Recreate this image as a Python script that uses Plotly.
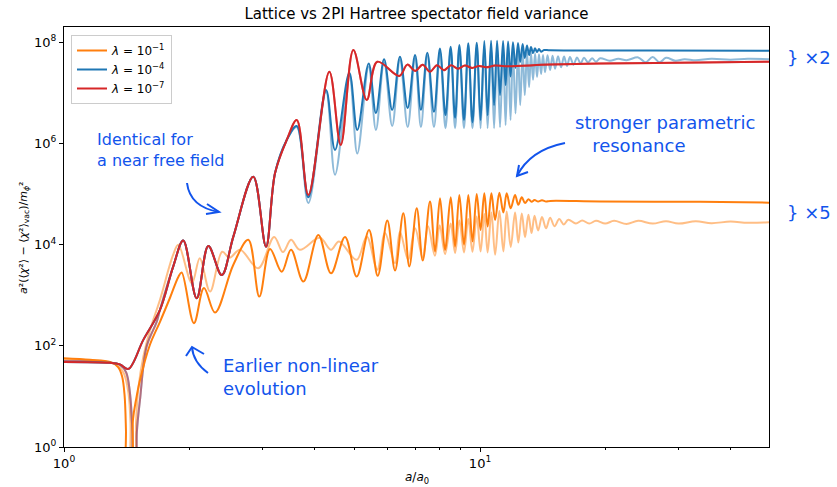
import math
import plotly.graph_objects as go

# ---------------- data ----------------
# near-free-field 2PI evolution shared by lambda=1e-4 and 1e-7 (before they separate)
free_x = [1.000, 1.290, 1.363, 1.428, 1.551, 1.701, 1.830, 1.935, 2.084, 2.223, 2.394, 2.553,
          2.851, 3.059, 3.216, 3.431]
free_y = [48, 46, 43, 35, 131, 514, 3680, 1.2e4, 870, 9400, 2500, 1.44e4,
          2.2e5, 9100, 2.6e5, 1.17e6]

# lattice early segment (dips through zero), joins the free curve afterwards
lat_early_x = [1.000, 1.290, 1.363, 1.410, 1.440, 1.460, 1.470, 1.485, 1.497, 1.523, 1.580, 1.671]
lat_early_y = [50, 47, 42, 30, 12, 2, 0.1, 0.1, 2, 8.6, 97, 300]

# lambda = 1e-7 (2PI) after x = 3.431
red_x = [3.626, 3.867, 4.343, 4.626, 4.960, 5.342, 5.664, 6.397, 6.687, 6.980, 7.28, 7.58, 7.88,
         8.19, 8.52, 8.85, 9.20, 9.57, 9.95, 10.34, 10.87, 11.48, 14.74, 19.44, 33.8, 49.5]
red_y = [2.9e6, 9.6e4, 2.6e7, 9.3e5, 7.0e7, 7.2e6, 4.1e7, 2.15e7, 3.6e7, 2.7e7, 3.6e7, 2.6e7, 3.5e7,
         2.8e7, 3.5e7, 3.0e7, 3.45e7, 3.1e7, 3.4e7, 3.2e7, 3.45e7, 3.35e7, 3.61e7, 3.78e7, 3.95e7, 4.1e7]

# lambda = 1e-4 (2PI) after x = 3.431
blue_x = [3.626, 3.867, 4.265, 4.482, 4.851, 5.07, 5.40, 5.62, 5.88, 6.15, 6.42, 6.70, 6.98, 7.21,
          7.47, 7.75, 8.01, 8.26, 8.50, 8.71, 8.92, 9.15, 9.37, 9.59, 9.82, 10.03, 10.24, 10.43,
          10.63, 10.81, 10.99, 11.17, 11.36, 11.52, 11.68, 11.84, 12.00, 12.17, 12.34, 12.49,
          12.66, 12.81, 12.97, 13.12, 13.26, 13.41, 13.56, 13.71, 13.86, 14.02, 14.25, 14.74,
          25.6, 49.5]
blue_y = [2.2e6, 8.6e4, 1.13e7, 7.4e5, 2.5e7, 1.84e6, 3.8e7, 4.0e6, 4.6e7, 4.6e6, 5.15e7, 5.0e6,
          5.56e7, 4.6e6, 6.2e7, 4.2e6, 7.5e7, 3.6e6, 8.1e7, 3.2e6, 8.8e7, 2.9e6, 9.5e7, 2.6e6,
          9.7e7, 2.9e6, 1.05e8, 3.6e6, 1.07e8, 5.7e6, 1.07e8, 9.0e6, 1.05e8, 1.42e7, 1.03e8,
          2.1e7, 1.0e8, 3.1e7, 9.6e7, 4.05e7, 9.2e7, 4.85e7, 8.6e7, 5.56e7, 8.0e7, 6.1e7, 7.6e7,
          6.4e7, 7.3e7, 6.5e7, 7.0e7, 6.9e7, 6.85e7, 6.8e7]

# lambda = 1e-4 (lattice) after x = 3.431
lblue_x = [3.626, 3.867, 4.265, 4.482, 4.851, 5.07, 5.40, 5.62, 5.88, 6.15, 6.42, 6.70, 6.98, 7.21,
           7.47, 7.75, 8.01, 8.26, 8.50, 8.71, 8.92, 9.15, 9.37, 9.59, 9.82, 10.03, 10.24, 10.43,
           10.63, 10.81, 10.99, 11.17, 11.36, 11.52, 11.68, 11.84, 12.00, 12.17, 12.34, 12.49,
           12.66, 12.81, 12.97, 13.12, 13.26, 13.41, 13.56, 13.71, 13.86, 14.02, 14.17, 14.33,
           14.53, 14.74, 14.94, 15.15, 15.40, 15.66, 15.92, 16.18, 16.45, 16.78, 17.11, 17.44,
           17.78, 18.18, 18.59, 19.00, 19.44, 20.5, 21.5, 22.5, 24.0, 25.0, 26.0, 27.0, 28.0,
           29.5, 31.0, 33.0, 36.0, 40.0, 44.0, 49.5]
lblue_y = [2.1e6, 6.6e4, 1.05e7, 2.4e5, 2.2e7, 6.3e5, 3.3e7, 1.84e6, 4.0e7, 2.2e6, 4.5e7, 2.1e6,
           4.9e7, 2.1e6, 5.4e7, 2.1e6, 6.5e7, 2.0e6, 7.0e7, 2.0e6, 7.5e7, 2.0e6, 8.0e7, 2.0e6,
           8.2e7, 2.0e6, 8.5e7, 2.0e6, 8.5e7, 2.0e6, 8.3e7, 2.1e6, 8.0e7, 2.3e6, 7.7e7, 2.9e6,
           7.3e7, 3.9e6, 7.0e7, 5.7e6, 6.7e7, 9.0e6, 6.4e7, 1.3e7, 6.2e7, 1.8e7, 6.0e7, 2.05e7,
           5.8e7, 2.35e7, 5.6e7, 2.56e7, 5.5e7, 2.81e7, 5.4e7, 3.0e7, 5.3e7, 3.2e7, 5.2e7, 3.4e7,
           5.1e7, 3.6e7, 5.0e7, 3.8e7, 4.9e7, 4.0e7, 4.8e7, 4.1e7, 4.8e7, 4.3e7, 4.7e7, 4.4e7,
           5.0e7, 4.0e7, 5.1e7, 4.0e7, 4.9e7, 4.3e7, 4.6e7, 4.4e7, 4.7e7, 4.5e7, 4.7e7, 4.6e7]

# lambda = 1e-1 (2PI)
orange_x = [1.000, 1.155, 1.290, 1.349, 1.379, 1.398, 1.409, 1.417, 1.449, 1.465, 1.490, 1.523,
            1.609, 1.701, 1.798, 1.883, 1.918, 2.053, 2.170, 2.307, 2.553, 2.773, 2.948, 3.128,
            3.337, 3.513, 3.761, 4.087, 4.384, 4.737, 5.053, 5.41, 5.677, 5.986, 6.247, 6.541,
            6.761, 7.045, 7.283, 7.582, 7.795, 8.013, 8.238, 8.503, 8.709, 8.918, 9.152, 9.373,
            9.594, 9.818, 10.03, 10.24, 10.43, 10.65, 10.87, 11.13, 11.38, 11.59, 11.85, 12.14,
            12.36, 12.60, 12.83, 13.07, 13.30, 13.52, 13.79, 14.09, 14.41, 14.74, 19.44, 33.8, 49.5]
orange_y = [57, 53, 48, 38, 25, 10.8, 2.2, 0.1, 0.1, 3.5, 8.6, 21,
            105, 298, 890, 2300, 2800, 280, 1380, 454, 4000, 1.24e4, 940, 8200,
            2900, 7900, 1860, 1.55e4, 2700, 1.42e4, 2330, 1.95e4, 2410, 3.0e4, 3070, 4.17e4,
            3680, 5.2e4, 4830, 7.1e4, 7280, 8.2e4, 7860, 8.6e4, 9100, 9.6e4, 9900, 9.6e4,
            1.15e4, 1.0e5, 1.95e4, 1.03e5, 2.27e4, 1.03e5, 3.07e4, 1.06e5, 4.3e4, 1.03e5, 5.2e4, 9.6e4,
            6.1e4, 8.6e4, 6.6e4, 7.9e4, 7.0e4, 7.6e4, 7.1e4, 7.5e4, 7.1e4, 7.3e4, 7.1e4, 7.0e4, 6.75e4]

# lambda = 1e-1 (lattice)
lorange_x = [1.000, 1.155, 1.290, 1.349, 1.394, 1.428, 1.445, 1.455, 1.480, 1.490, 1.510, 1.551,
             1.609, 1.701, 1.830, 1.883, 2.030, 2.120, 2.244, 2.400, 2.500, 2.650, 2.930, 3.200,
             3.360, 3.513, 3.690, 4.120, 4.384, 4.580, 5.053, 5.342, 5.664, 5.910, 6.247, 6.420,
             6.720, 6.980, 7.280, 7.500, 7.790, 8.000, 8.240, 8.500, 8.710, 8.920, 9.150, 9.370,
             9.590, 9.820, 10.03, 10.24, 10.43, 10.65, 10.87, 11.13, 11.38, 11.59, 11.85, 12.14,
             12.36, 12.60, 12.83, 13.07, 13.30, 13.52, 13.79, 14.09, 14.41, 14.74, 15.10, 15.50,
             15.90, 16.30, 17.00, 17.60, 18.30, 19.00, 20.00, 21.00, 22.50, 24.00, 26.00, 28.00,
             30.00, 33.00, 36.00, 40.00, 44.00, 49.5]
lorange_y = [55, 52, 47, 40, 28, 12, 3, 0.1, 0.1, 3, 15, 60,
             200, 810, 6300, 9900, 1730, 5400, 1180, 7200, 5500, 7900, 3400, 1.42e4,
             7100, 1.24e4, 7900, 1.36e4, 7900, 1.15e4, 5000, 1.44e4, 3200, 1.7e4, 4300, 1.8e4,
             5000, 2.1e4, 5500, 2.3e4, 6000, 2.4e4, 6500, 2.6e4, 6800, 3.0e4, 7000, 3.2e4,
             7200, 3.6e4, 7300, 4.0e4, 7000, 4.3e4, 6300, 4.6e4, 7300, 4.5e4, 9000, 4.3e4,
             1.1e4, 4.1e4, 1.4e4, 3.9e4, 1.7e4, 3.7e4, 1.9e4, 3.5e4, 2.1e4, 3.4e4, 2.3e4, 3.2e4,
             2.5e4, 3.1e4, 2.6e4, 3.0e4, 2.6e4, 2.95e4, 2.6e4, 2.95e4, 2.55e4, 2.95e4, 2.6e4, 2.9e4,
             2.6e4, 2.9e4, 2.65e4, 2.85e4, 2.7e4, 2.75e4]

legend_labels = ["<i>λ</i> = 10<sup>−1</sup>", "<i>λ</i> = 10<sup>−4</sup>", "<i>λ</i> = 10<sup>−7</sup>"]
x_ticks = [1, 10]
x_ticktext = ["10<sup>0</sup>", "10<sup>1</sup>"]
x_minor = [2, 3, 4, 5, 6, 7, 8, 9, 20, 30, 40]
y_ticks = [1, 1e2, 1e4, 1e6, 1e8]
y_ticktext = ["10<sup>0</sup>", "10<sup>2</sup>", "10<sup>4</sup>", "10<sup>6</sup>", "10<sup>8</sup>"]

ORANGE, BLUE, RED = "#ff7f0e", "#1f77b4", "#d62728"
INK = "#1254ec"

# ---------------- figure ----------------
W, H = 837, 487
L, R, T, B = 64, 68, 27, 40
PW, PH = W - L - R, H - T - B


def fx(p):
    return (p - L) / PW


def fy(p):
    return (H - B - p) / PH


fig = go.Figure()


def line(x, y, color, opacity=1.0, name=None, show=False, legendrank=1000):
    fig.add_trace(go.Scatter(
        x=x, y=y, mode="lines", name=name, showlegend=show, opacity=opacity,
        line=dict(color=color, width=2, shape="spline", smoothing=1.0),
        legendrank=legendrank, hoverinfo="skip"))


# lattice (faded)
line(lorange_x, lorange_y, ORANGE, 0.5)
line(lat_early_x + free_x[5:] + lblue_x, lat_early_y + free_y[5:] + lblue_y, BLUE, 0.5)
line(lat_early_x + free_x[5:] + red_x, lat_early_y + free_y[5:] + red_y, RED, 0.5)
# 2PI Hartree (solid)
line(orange_x, orange_y, ORANGE, 1.0, legend_labels[0], True, 1)
line(free_x + blue_x, free_y + blue_y, BLUE, 1.0, legend_labels[1], True, 2)
line(free_x + red_x, free_y + red_y, RED, 1.0, legend_labels[2], True, 3)

axis_common = dict(
    type="log", showline=True, linecolor="black", linewidth=1, mirror=True,
    ticks="outside", ticklen=4, tickwidth=1, tickcolor="black", showgrid=False,
    zeroline=False, tickfont=dict(family="DejaVu Sans", size=13, color="black"),
)
fig.update_xaxes(**axis_common, range=[0, math.log10(49.5)], tickmode="array",
                 tickvals=x_ticks, ticktext=x_ticktext,
                 minor=dict(ticks="outside", ticklen=2, tickwidth=1, tickcolor="black",
                            tickvals=x_minor, showgrid=False))
fig.update_yaxes(**axis_common, range=[0, 8.30], tickmode="array",
                 tickvals=y_ticks, ticktext=y_ticktext)

hand = dict(family="DejaVu Sans", color=INK)
ylab = "<i>a</i>²(⟨<i>χ</i>²⟩ − ⟨<i>χ</i>²⟩<sub>vac</sub>)/<i>m</i><sub><i>ϕ</i></sub>²"
annotations = [
    # axis titles
    dict(x=fx(416.5), y=fy(478), text="<i>a</i>/<i>a</i><sub>0</sub>", showarrow=False,
         font=dict(family="DejaVu Sans", size=12, color="black"), xanchor="center", yanchor="middle"),
    dict(x=fx(24), y=fy(238), textangle=-90, text=ylab,
         showarrow=False, font=dict(family="DejaVu Sans", size=11, color="black"),
         xanchor="center", yanchor="middle"),
    # handwritten notes
    dict(x=fx(95), y=fy(150), text="Identical for<br>a near free field", showarrow=False,
         align="left", font=dict(size=16, **hand), xanchor="left", yanchor="middle"),
    dict(x=fx(573), y=fy(134), text="stronger parametric<br>&nbsp;&nbsp;&nbsp;resonance",
         showarrow=False, align="left", font=dict(size=18, **hand), xanchor="left", yanchor="middle"),
    dict(x=fx(221), y=fy(377), text="Earlier non-linear<br>evolution", showarrow=False,
         align="left", font=dict(size=18, **hand), xanchor="left", yanchor="middle"),
    dict(x=fx(785), y=fy(58), text="} ×2", showarrow=False,
         font=dict(size=18, **hand), xanchor="left", yanchor="middle"),
    dict(x=fx(785), y=fy(212), text="} ×5", showarrow=False,
         font=dict(size=18, **hand), xanchor="left", yanchor="middle"),
]
for a in annotations:
    a.setdefault("xref", "paper")
    a.setdefault("yref", "paper")


def path(points, curve=None):
    (x0, y0) = points[0]
    s = f"M {fx(x0)},{fy(y0)}"
    if curve is not None:
        (cx, cy), (x1, y1) = curve
        s += f" Q {fx(cx)},{fy(cy)} {fx(x1)},{fy(y1)}"
    else:
        for (x1, y1) in points[1:]:
            s += f" L {fx(x1)},{fy(y1)}"
    return s


ink_line = dict(color=INK, width=2)
shapes = [
    dict(type="path", path=path([(187, 183)], ((190, 207), (219, 212))), line=ink_line),
    dict(type="path", path=path([(207, 204), (219, 212), (206, 214)]), line=ink_line),
    dict(type="path", path=path([(565, 143)], ((530, 150), (517, 176))), line=ink_line),
    dict(type="path", path=path([(519, 165), (517, 176), (528, 172)]), line=ink_line),
    dict(type="path", path=path([(208, 373)], ((193, 362), (192, 347))), line=ink_line),
    dict(type="path", path=path([(186, 356), (192, 347), (204, 354)]), line=ink_line),
]
for s in shapes:
    s["xref"] = "paper"
    s["yref"] = "paper"

fig.update_layout(
    width=W, height=H, margin=dict(l=L, r=R, t=T, b=B),
    paper_bgcolor="white", plot_bgcolor="white",
    title=dict(text="Lattice vs 2PI Hartree spectator field variance", x=416.5 / W,
               xanchor="center", y=1 - 14 / H, yanchor="middle",
               font=dict(family="DejaVu Sans", size=15, color="black")),
    legend=dict(x=fx(71), y=fy(35), xanchor="left", yanchor="top", bgcolor="rgba(255,255,255,0.8)",
                bordercolor="#cccccc", borderwidth=1, font=dict(family="DejaVu Sans", size=12, color="black"),
                tracegroupgap=0, itemwidth=30),
    annotations=annotations, shapes=shapes, showlegend=True,
)

fig.write_html("out.html")
